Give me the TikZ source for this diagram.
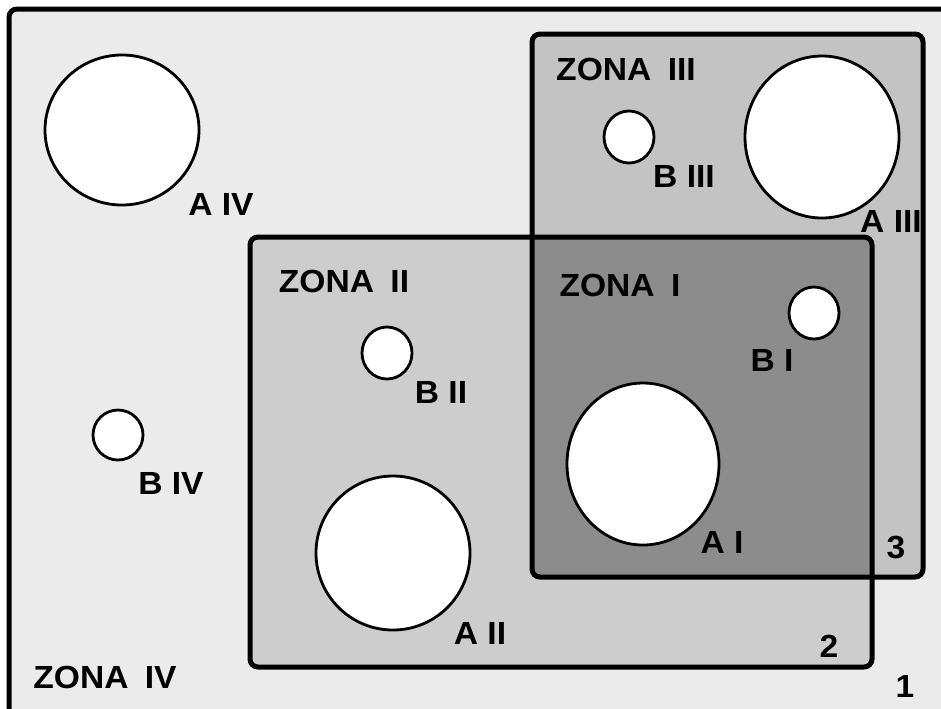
\documentclass[tikz,border=0pt]{standalone}
\usepackage{fontspec}
\setmainfont{Liberation Sans}
\newfontfamily\labfont[FakeStretch=1.05]{Liberation Sans Bold}
\definecolor{zfour}{HTML}{EBEBEB}
\definecolor{ztwo}{HTML}{CDCDCD}
\definecolor{zthree}{HTML}{C3C3C3}
\definecolor{zone}{HTML}{8C8C8C}
\begin{document}
\begin{tikzpicture}[x=0.5pt,y=-0.5pt,
  zborder/.style={line width=2.5pt, rounded corners=4pt},
  hole/.style={draw, fill=white, line width=1.4pt},
  lab/.style={font=\labfont\fontsize{16}{18}\selectfont, inner sep=0pt, anchor=base}]
\useasboundingbox (0,0) rectangle (941,708);
\clip (0,0) rectangle (941,708);
% zone IV
\fill[zfour] (9,9) rectangle (960,730);
% zone II and III fills
\fill[ztwo] (250,237) rectangle (872,667);
\fill[zthree] (532,34) rectangle (923,577);
\fill[zone] (532,237) rectangle (872,577);
% borders
\draw[zborder] (9,730) -- (9,9) -- (960,9);
\draw[zborder] (250,237) rectangle (872,667);
\draw[zborder] (532,34) rectangle (923,577);
% holes
\draw[hole] (122,130) ellipse [x radius=77, y radius=75];
\draw[hole] (118,435) circle [radius=25];
\draw[hole] (393,553) ellipse [x radius=77, y radius=77];
\draw[hole] (387,353) ellipse [x radius=25, y radius=26];
\draw[hole] (643,464) ellipse [x radius=76, y radius=81];
\draw[hole] (814,313) ellipse [x radius=25, y radius=26];
\draw[hole] (629,137) ellipse [x radius=25, y radius=26];
\draw[hole] (822,137) ellipse [x radius=77, y radius=81];
% labels
\node[lab] (lAIV) at (221,215) {A IV};
\node[lab] (lZIII) at (626,80) {ZONA\hspace{0.22em} III};
\node[lab] (lBIII) at (684,187) {B III};
\node[lab] (lAIII) at (891,232) {A III};
\node[lab] (lZII) at (344,292) {ZONA\hspace{0.22em} II};
\node[lab] (lZI) at (620,296) {ZONA\hspace{0.22em} I};
\node[lab] (lBII) at (441,403) {B II};
\node[lab] (lBI) at (772,371) {B I};
\node[lab] (lBIV) at (171,494) {B IV};
\node[lab] (lAII) at (480,644) {A II};
\node[lab] (lAI) at (722,553) {A I};
\node[lab] (l3) at (896,558) {3};
\node[lab] (l2) at (829,657) {2};
\node[lab] (l1) at (905,697) {1};
\node[lab] (lZIV) at (105,688) {ZONA\hspace{0.22em} IV};
\end{tikzpicture}
\end{document}
